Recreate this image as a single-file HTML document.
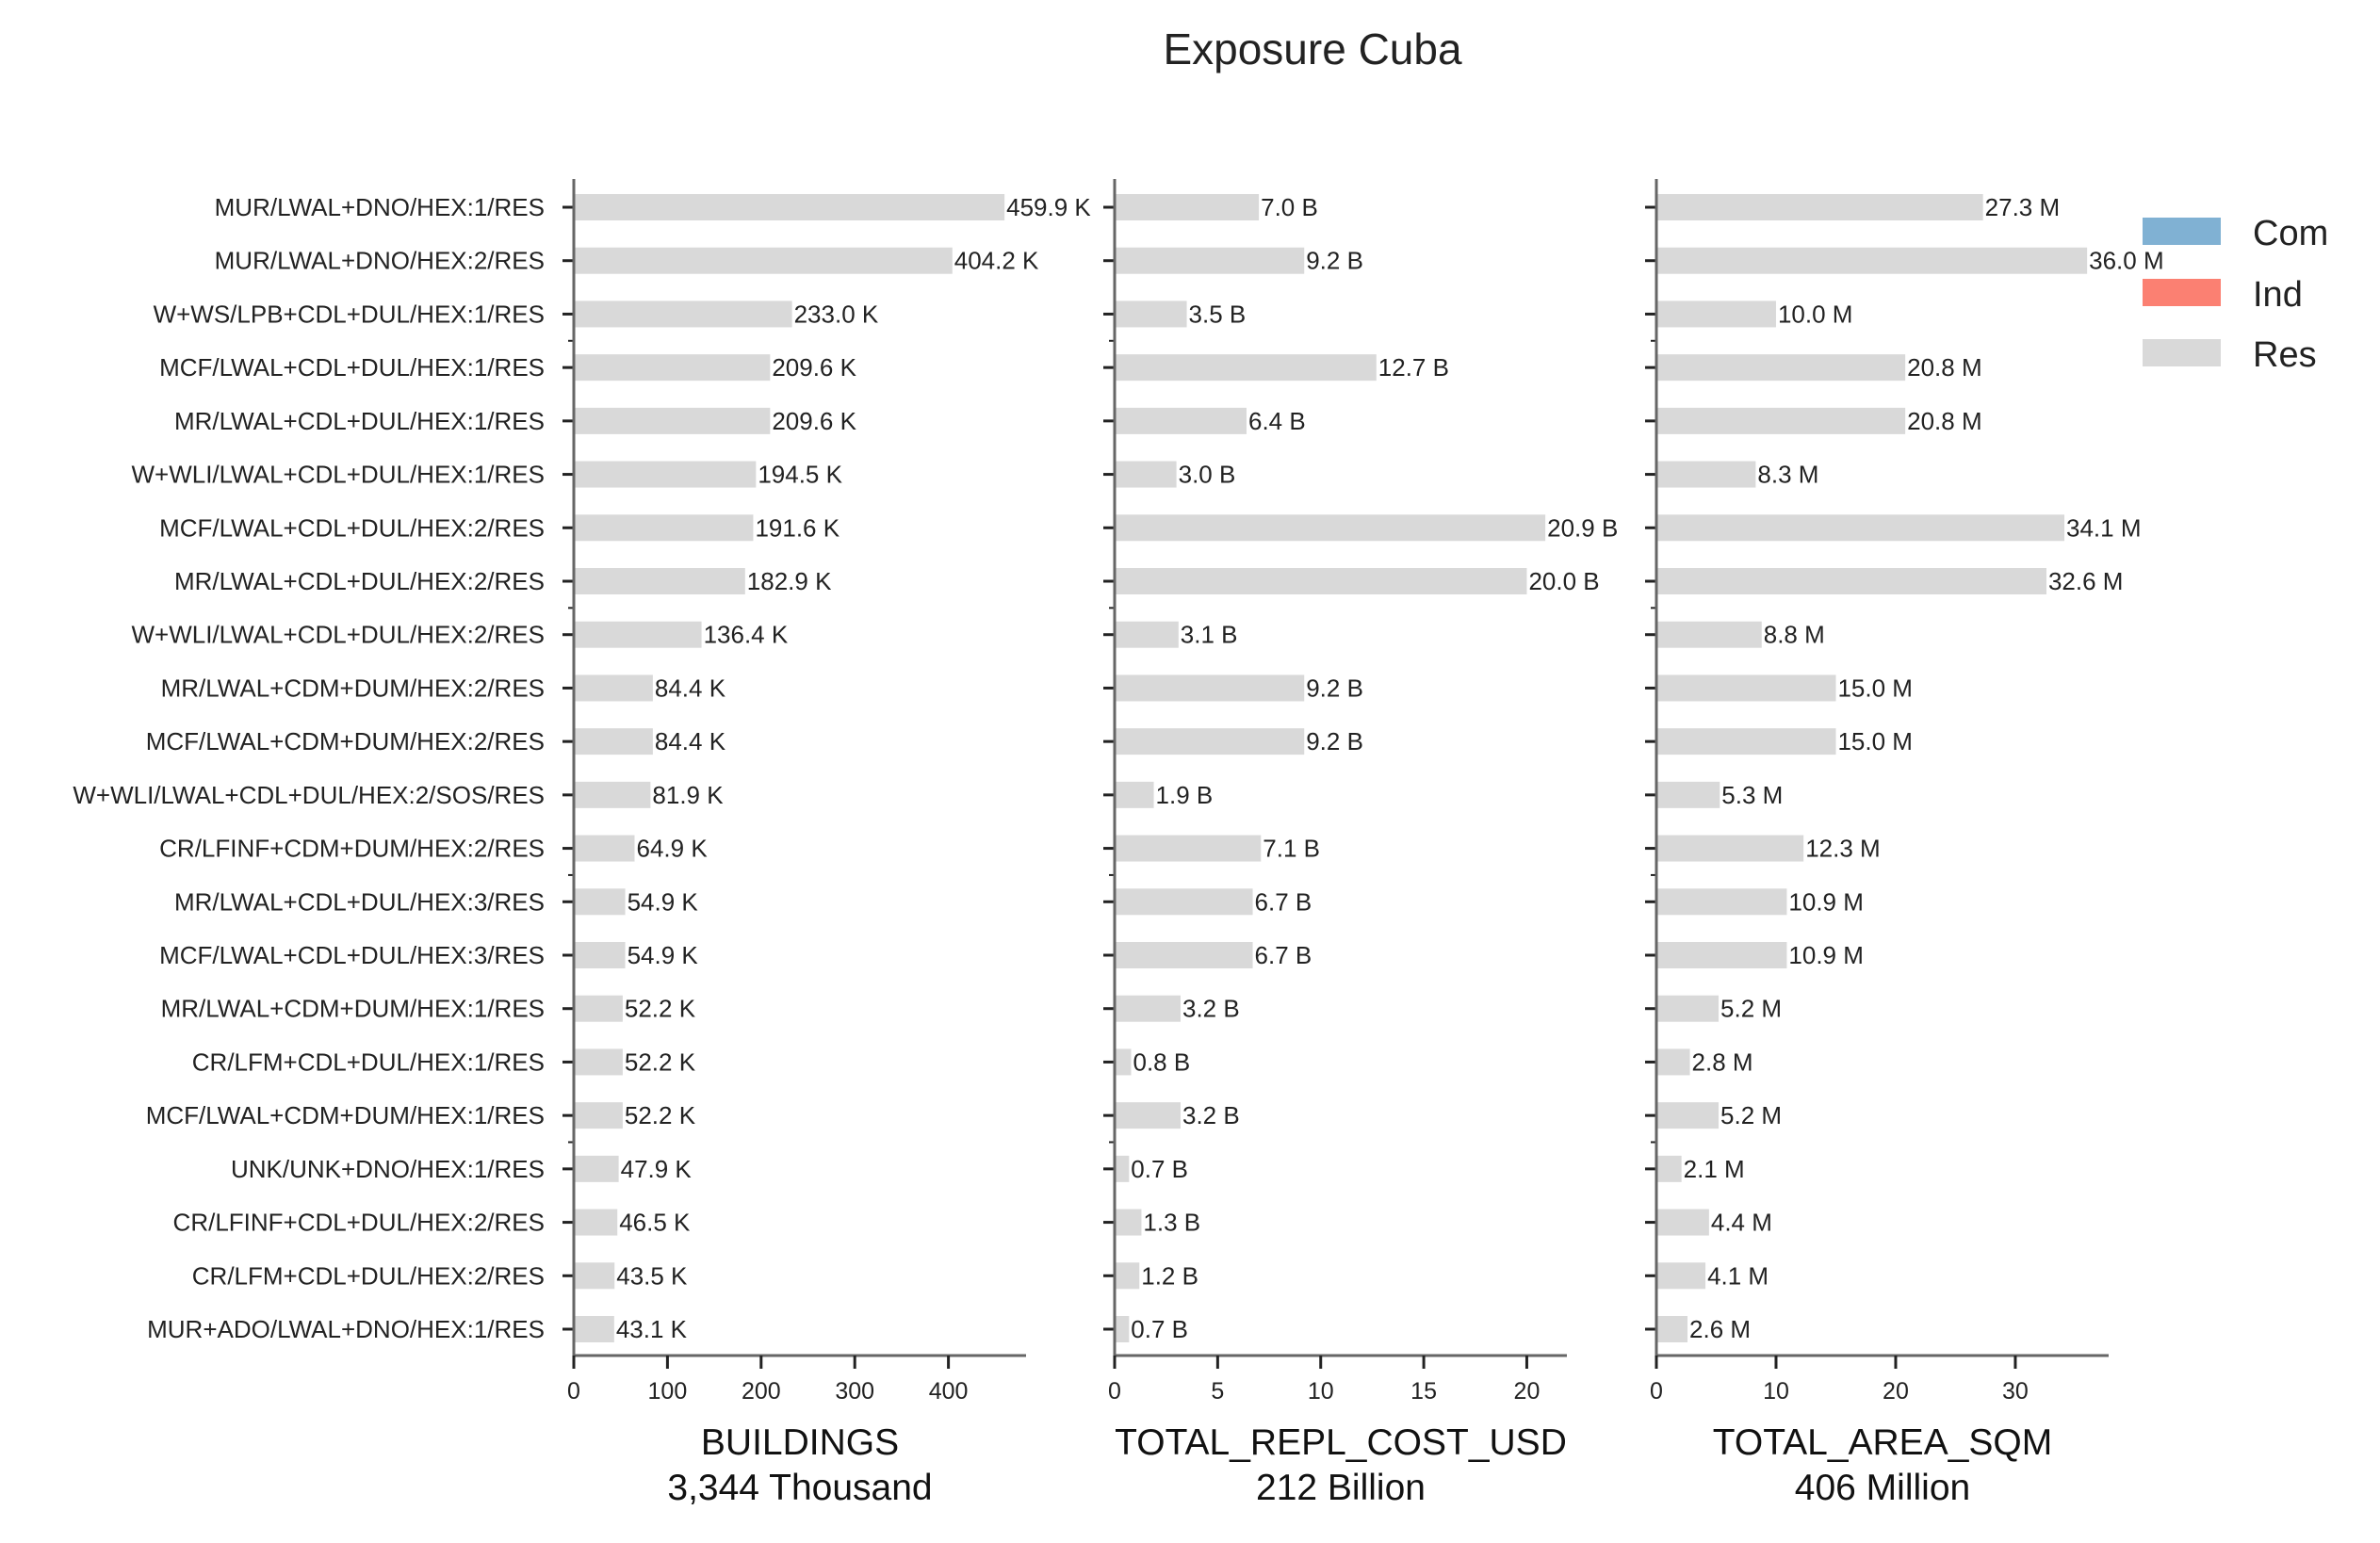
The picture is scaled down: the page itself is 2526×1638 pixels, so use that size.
<!DOCTYPE html>
<html><head><meta charset="utf-8"><style>
html,body{margin:0;padding:0;background:#fff;}
svg{display:block;font-family:"Liberation Sans",sans-serif;}
</style></head><body>
<svg id="chart" width="2526" height="1638" viewBox="0 0 2526 1638">
<text x="1393" y="68" text-anchor="middle" font-size="46" fill="#222">Exposure Cuba</text>
<g>
<rect x="2274" y="231" width="83" height="29" fill="#80b1d3"/>
<text x="2391" y="260" font-size="38" fill="#222">Com</text>
<rect x="2274" y="296" width="83" height="29" fill="#fb8072"/>
<text x="2391" y="325" font-size="38" fill="#222">Ind</text>
<rect x="2274" y="360" width="83" height="29" fill="#d9d9d9"/>
<text x="2391" y="389" font-size="38" fill="#222">Res</text>
</g>
</svg>
<script>
const categories=["MUR/LWAL+DNO/HEX:1/RES","MUR/LWAL+DNO/HEX:2/RES","W+WS/LPB+CDL+DUL/HEX:1/RES","MCF/LWAL+CDL+DUL/HEX:1/RES","MR/LWAL+CDL+DUL/HEX:1/RES","W+WLI/LWAL+CDL+DUL/HEX:1/RES","MCF/LWAL+CDL+DUL/HEX:2/RES","MR/LWAL+CDL+DUL/HEX:2/RES","W+WLI/LWAL+CDL+DUL/HEX:2/RES","MR/LWAL+CDM+DUM/HEX:2/RES","MCF/LWAL+CDM+DUM/HEX:2/RES","W+WLI/LWAL+CDL+DUL/HEX:2/SOS/RES","CR/LFINF+CDM+DUM/HEX:2/RES","MR/LWAL+CDL+DUL/HEX:3/RES","MCF/LWAL+CDL+DUL/HEX:3/RES","MR/LWAL+CDM+DUM/HEX:1/RES","CR/LFM+CDL+DUL/HEX:1/RES","MCF/LWAL+CDM+DUM/HEX:1/RES","UNK/UNK+DNO/HEX:1/RES","CR/LFINF+CDL+DUL/HEX:2/RES","CR/LFM+CDL+DUL/HEX:2/RES","MUR+ADO/LWAL+DNO/HEX:1/RES"];
const buildings=[459.9,404.2,233.0,209.6,209.6,194.5,191.6,182.9,136.4,84.4,84.4,81.9,64.9,54.9,54.9,52.2,52.2,52.2,47.9,46.5,43.5,43.1];
const replCost=[7.0,9.2,3.5,12.7,6.4,3.0,20.9,20.0,3.1,9.2,9.2,1.9,7.1,6.7,6.7,3.2,0.8,3.2,0.7,1.3,1.2,0.7];
const area=[27.3,36.0,10.0,20.8,20.8,8.3,34.1,32.6,8.8,15.0,15.0,5.3,12.3,10.9,10.9,5.2,2.8,5.2,2.1,4.4,4.1,2.6];
const ticksB=[0,100,200,300,400];
const ticksC=[0,5,10,15,20];
const ticksA=[0,10,20,30];
const panels=[
 {name:"buildings",x0:609,vals:buildings,ticks:ticksB,unit:"K",t1:"BUILDINGS",t2:"3,344 Thousand"},
 {name:"repl-cost",x0:1183,vals:replCost,ticks:ticksC,unit:"B",t1:"TOTAL_REPL_COST_USD",t2:"212 Billion"},
 {name:"area",x0:1758,vals:area,ticks:ticksA,unit:"M",t1:"TOTAL_AREA_SQM",t2:"406 Million"}
];
const svgEl=document.getElementById('chart');
const NS="http://www.w3.org/2000/svg";
function mk(tag,attrs,parent){const e=document.createElementNS(NS,tag);for(const k in attrs)e.setAttribute(k,attrs[k]);(parent||svgEl).appendChild(e);return e;}
const W=480,axTop=190,axBottom=1439,y0=220,step=(1411-220)/21,bh=28;
function yPos(i){return y0+i*step;}
panels.forEach((p,pi)=>{
 const max=Math.max(...p.vals)*1.05;
 const xs=v=>p.x0+v/max*W;
 const g=mk('g',{});
 
 
 p.vals.forEach((v,i)=>{
  const r=mk('rect',{x:p.x0,y:yPos(i)-bh/2,width:xs(v)-p.x0,height:bh,fill:'#d9d9d9'},g);
  
  
  const t=mk('text',{x:xs(v)+2,y:yPos(i)+9,'font-size':26,fill:'#222'},g);
  
  
  t.textContent=v.toFixed(1)+' '+p.unit;
  mk('line',{x1:p.x0-12,x2:p.x0,y1:yPos(i),y2:yPos(i),stroke:'#222','stroke-width':3},g);
  if(pi===0){
   const l=mk('text',{x:578,y:yPos(i)+9,'font-size':26,fill:'#222','text-anchor':'end'},g);
   
   
   l.textContent=categories[i];
  }
 });
 [2,7,12,17].forEach(i=>{const y=(yPos(i)+yPos(i+1))/2;mk('line',{x1:p.x0-6,x2:p.x0,y1:y,y2:y,stroke:'#222','stroke-width':2},g);});
 const ya=mk('line',{x1:p.x0,x2:p.x0,y1:axTop,y2:axBottom,stroke:'#666','stroke-width':3},g);
 
 
 const xa=mk('line',{x1:p.x0,x2:p.x0+W,y1:axBottom,y2:axBottom,stroke:'#666','stroke-width':3},g);
 
 
 p.ticks.forEach(tk=>{
  mk('line',{x1:xs(tk),x2:xs(tk),y1:axBottom,y2:axBottom+14,stroke:'#222','stroke-width':3},g);
  const t=mk('text',{x:xs(tk),y:axBottom+46,'font-size':25,fill:'#222','text-anchor':'middle'},g);
  
  
  t.textContent=tk;
 });
 const cx=p.x0+W/2;
 const a=mk('text',{x:cx,y:1544,'font-size':39,fill:'#111','text-anchor':'middle'},g);
 
 
 a.textContent=p.t1;
 const b=mk('text',{x:cx,y:1592,'font-size':39,fill:'#111','text-anchor':'middle'},g);
 
 
 b.textContent=p.t2;
});
</script>
</body></html>
